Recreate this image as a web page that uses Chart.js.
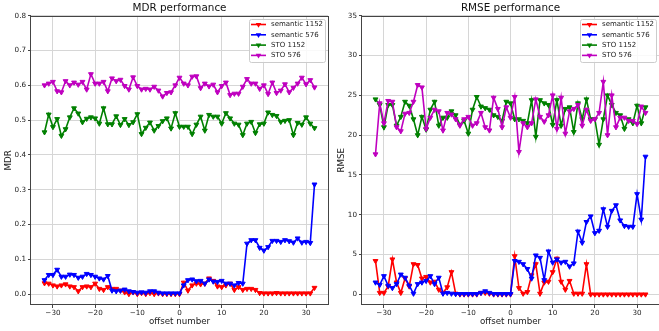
<!DOCTYPE html>
<html>
<head>
<meta charset="utf-8">
<title>MDR / RMSE performance</title>
<script src="https://cdn.jsdelivr.net/npm/chart.js@4.4.0/dist/chart.umd.min.js"></script>
<style>
  html, body { margin: 0; padding: 0; width: 659px; height: 331px; overflow: hidden; background: #fff; }
  .panel { position: absolute; top: 0; width: 333px; height: 331px; }
  #mdrPanel { left: 0; }
  #rmsePanel { left: 331px; }
</style>
</head>
<body>
<div class="panel" id="mdrPanel"><canvas id="mdrCanvas"></canvas></div>
<div class="panel" id="rmsePanel"><canvas id="rmseCanvas"></canvas></div>
<script>
// x軸: オフセット番号
const offsets = [
  -32, -31, -30, -29, -28, -27, -26, -25, -24, -23, -22, -21, -20, -19, -18, -17,
  -16, -15, -14, -13, -12, -11, -10, -9, -8, -7, -6, -5, -4, -3, -2, -1,
  0, 1, 2, 3, 4, 5, 6, 7, 8, 9, 10, 11, 12, 13, 14, 15,
  16, 17, 18, 19, 20, 21, 22, 23, 24, 25, 26, 27, 28, 29, 30, 31, 32
]

const xTicks = [-30, -20, -10, 0, 10, 20, 30]
const mdrTicks = [0, 0.1, 0.2, 0.3, 0.4, 0.5, 0.6, 0.7, 0.8]
const rmseTicks = [0, 5, 10, 15, 20, 25, 30, 35]

const seriesLabels = ["semantic 1152", "semantic 576", "STO 1152", "STO 576"]

// MDR
const mdrSemantic1152 = [
  0.031, 0.030, 0.025, 0.022, 0.025, 0.028, 0.022, 0.020, 0.008, 0.020, 0.022, 0.020, 0.030, 0.015, 0.012, 0.020,
  0.015, 0.015, 0.010, 0.005, 0.000, 0.005, 0.000, 0.003, 0.000, 0.003, 0.000, 0.002, 0.000, 0.000, 0.000, 0.000,
  0.000, 0.033, 0.010, 0.025, 0.030, 0.028, 0.030, 0.045, 0.038, 0.022, 0.020, 0.025, 0.030, 0.012, 0.020, 0.012,
  0.015, 0.015, 0.012, 0.003, 0.002, 0.002, 0.002, 0.003, 0.002, 0.002, 0.002, 0.002, 0.002, 0.002, 0.002, 0.002, 0.018
]
const mdrSemantic576 = [
  0.040, 0.055, 0.055, 0.070, 0.050, 0.050, 0.056, 0.055, 0.047, 0.050, 0.058, 0.055, 0.050, 0.045, 0.042, 0.052,
  0.010, 0.008, 0.010, 0.013, 0.008, 0.006, 0.004, 0.005, 0.004, 0.008, 0.008, 0.004, 0.002, 0.002, 0.002, 0.002,
  0.002, 0.025, 0.040, 0.042, 0.037, 0.038, 0.030, 0.042, 0.036, 0.035, 0.038, 0.030, 0.030, 0.025, 0.032, 0.030,
  0.145, 0.155, 0.155, 0.133, 0.125, 0.135, 0.153, 0.153, 0.150, 0.155, 0.152, 0.148, 0.160, 0.148, 0.150, 0.147, 0.315
]
const mdrSto1152 = [
  0.465, 0.516, 0.480, 0.503, 0.455, 0.474, 0.508, 0.534, 0.519, 0.494, 0.504, 0.508, 0.505, 0.490, 0.534, 0.488,
  0.488, 0.511, 0.486, 0.503, 0.486, 0.494, 0.517, 0.460, 0.478, 0.493, 0.470, 0.483, 0.497, 0.505, 0.476, 0.520,
  0.481, 0.481, 0.481, 0.460, 0.487, 0.510, 0.470, 0.515, 0.510, 0.510, 0.490, 0.520, 0.505, 0.490, 0.487, 0.457,
  0.490, 0.495, 0.463, 0.488, 0.490, 0.522, 0.515, 0.512, 0.495, 0.498, 0.500, 0.457, 0.492, 0.487, 0.508, 0.490, 0.477
]
const mdrSto576 = [
  0.600, 0.605, 0.610, 0.583, 0.580, 0.612, 0.600, 0.608, 0.602, 0.610, 0.588, 0.632, 0.605, 0.605, 0.610, 0.583,
  0.620, 0.612, 0.616, 0.598, 0.588, 0.623, 0.598, 0.588, 0.590, 0.588, 0.596, 0.585, 0.568, 0.578, 0.580, 0.600,
  0.622, 0.605, 0.600, 0.625, 0.626, 0.592, 0.605, 0.597, 0.602, 0.580, 0.598, 0.608, 0.572, 0.576, 0.576, 0.596,
  0.618, 0.605, 0.605, 0.590, 0.600, 0.575, 0.608, 0.578, 0.585, 0.603, 0.580, 0.593, 0.605, 0.622, 0.603, 0.615, 0.594
]

// RMSE
const rmseSemantic1152 = [
  4.2, 0.2, 0.2, 1.0, 4.4, 1.5, 0.2, 2.0, 1.0, 3.8, 3.7, 2.0, 2.2, 1.5, 1.6, 0.6,
  0.2, 0.9, 2.8, 0.1, 0.0, 0.0, 0.0, 0.0, 0.0, 0.2, 0.2, 0.1, 0.0, 0.0, 0.0, 0.0,
  0.0, 4.8, 0.8, 0.1, 0.3, 2.4, 3.8, 0.1, 1.5, 1.6, 2.8, 4.5, 1.6, 0.6, 1.7, 0.1,
  0.1, 0.1, 3.8, 0.0, 0.0, 0.0, 0.0, 0.0, 0.0, 0.0, 0.0, 0.0, 0.0, 0.0, 0.0, 0.0, 0.0
]
const rmseSemantic576 = [
  1.5, 1.2, 2.3, 1.1, 0.8, 1.3, 2.5, 2.1, 1.1, 0.1, 1.3, 1.5, 1.7, 2.3, 1.3, 2.1,
  0.1, 0.2, 0.1, 0.05, 0.05, 0.05, 0.05, 0.05, 0.05, 0.2, 0.4, 0.2, 0.05, 0.05, 0.05, 0.05,
  0.05, 4.2, 4.1, 3.8, 3.2, 2.0, 4.9, 4.6, 1.8, 5.4, 4.0, 4.4, 4.0, 4.1, 3.5, 3.9,
  7.9, 6.5, 9.1, 9.8, 7.7, 8.0, 10.7, 8.5, 10.5, 11.2, 9.3, 8.6, 8.5, 8.5, 12.6, 9.4, 17.3
]
const rmseSto1152 = [
  24.5, 23.8, 21.0, 23.8, 23.8, 21.2, 22.3, 24.2, 23.7, 22.0, 20.0, 22.3, 20.7, 23.2, 24.2, 21.2,
  22.2, 22.2, 23.0, 22.5, 21.3, 21.8, 20.2, 23.2, 24.8, 23.6, 23.4, 23.2, 22.5, 22.3, 21.8, 24.2,
  24.0, 22.0, 22.0, 21.8, 21.5, 24.4, 19.8, 24.4, 24.0, 23.8, 21.3, 24.4, 21.2, 23.3, 23.5, 20.4,
  24.0, 22.0, 24.5, 22.0, 22.0, 18.8, 22.0, 25.0, 23.8, 22.8, 22.5, 20.8, 22.0, 21.5, 23.7, 21.5, 23.5
]
const rmseSto576 = [
  17.6, 24.0, 21.5, 24.3, 24.2, 21.0, 20.5, 22.7, 22.8, 24.2, 26.3, 26.0, 20.8, 22.2, 23.2, 23.0,
  20.6, 22.8, 22.6, 22.0, 21.2, 22.0, 22.3, 21.2, 21.5, 22.8, 21.0, 20.6, 24.7, 23.3, 21.0, 23.5,
  22.2, 24.8, 17.9, 21.5, 21.0, 21.5, 24.5, 22.3, 21.7, 22.5, 25.0, 20.8, 24.7, 20.2, 23.0, 23.3,
  23.8, 21.2, 23.2, 21.8, 22.0, 22.8, 26.7, 20.0, 25.0, 21.0, 22.2, 22.2, 21.8, 21.8, 21.4, 23.6, 22.8
]

// 見た目の設定
const FONT = "'DejaVu Sans', sans-serif"
const seriesColors = ["#ff0000", "#0000ff", "#008000", "#bf00bf"]
const gridColor = "#d6d6d6"
const spineColor = "#444444"
const textColor = "#222222"

Chart.defaults.font.family = FONT

// 枠線 (matplotlib の spines)
const frame = {
  id: "frame",
  afterDatasetsDraw(chart) {
    const { ctx, chartArea: a } = chart
    ctx.save()
    ctx.strokeStyle = spineColor
    ctx.lineWidth = 1
    ctx.strokeRect(Math.round(a.left) - 0.5, Math.round(a.top) + 0.5,
      Math.round(a.right - a.left) + 1, Math.round(a.bottom - a.top) - 1)
    ctx.restore()
  }
}

// 下向き三角マーカー
function drawMarker(ctx, x, y, r, color) {
  ctx.beginPath()
  ctx.moveTo(x, y + r)
  ctx.lineTo(x - r * 0.866, y - r / 2)
  ctx.lineTo(x + r * 0.866, y - r / 2)
  ctx.closePath()
  ctx.fillStyle = color
  ctx.fill()
}

// 右上の凡例
const cornerLegend = {
  id: "cornerLegend",
  afterDraw(chart) {
    const { ctx, chartArea: a } = chart
    const w = 76, h = 43
    const x = Math.round(a.right) - 3 - w
    const y = Math.round(a.top) + 3
    ctx.save()
    ctx.beginPath()
    ctx.roundRect(x + 0.5, y + 0.5, w, h, 2)
    ctx.fillStyle = "rgba(255,255,255,0.85)"
    ctx.fill()
    ctx.strokeStyle = "#cccccc"
    ctx.lineWidth = 1
    ctx.stroke()
    ctx.font = "7px " + FONT
    ctx.textBaseline = "middle"
    chart.data.datasets.forEach((ds, i) => {
      const ly = y + 5.5 + i * 10.3
      ctx.strokeStyle = ds.borderColor
      ctx.lineWidth = 1.6
      ctx.beginPath()
      ctx.moveTo(x + 2, ly)
      ctx.lineTo(x + 17, ly)
      ctx.stroke()
      drawMarker(ctx, x + 9.5, ly, 3.2, ds.borderColor)
      ctx.fillStyle = textColor
      ctx.fillText(ds.label, x + 22, ly)
    })
    ctx.restore()
  }
}

function fmtX(v) {
  return v < 0 ? "\u2212" + Math.abs(v) : String(v)
}

function buildDatasets(seriesList) {
  return seriesList.map((values, i) => ({
    label: seriesLabels[i],
    data: offsets.map((x, j) => ({ x: x, y: values[j] })),
    borderColor: seriesColors[i],
    backgroundColor: seriesColors[i],
    borderWidth: 1.6,
    pointStyle: "triangle",
    rotation: 180,
    pointRadius: 2.8,
    pointBorderWidth: 1,
    tension: 0,
    order: 3 - i // 後の系列を上に描く
  }))
}

function buildChart(canvasId, title, yLabel, yMin, yMax, yTicks, yFmt, yTitlePad, seriesList) {
  return new Chart(document.getElementById(canvasId), {
    type: "line",
    data: { datasets: buildDatasets(seriesList) },
    options: {
      responsive: true,
      maintainAspectRatio: false,
      animation: false,
      events: [],
      layout: { padding: { left: 0, right: 2, top: 0, bottom: 0 } },
      plugins: {
        legend: { display: false },
        tooltip: { enabled: false },
        title: {
          display: true,
          text: title,
          fullSize: false,
          color: "#111111",
          font: { size: 10.4, weight: "normal" },
          padding: { top: 2.3, bottom: 0.9 }
        }
      },
      scales: {
        x: {
          type: "linear",
          min: -35.2,
          max: 35.2,
          afterBuildTicks: s => { s.ticks = xTicks.map(v => ({ value: v })) },
          afterFit: s => { s.height = 26 },
          grid: { color: gridColor, lineWidth: 1, tickLength: 3, tickColor: spineColor, tickWidth: 1 },
          border: { display: false },
          ticks: { padding: 1, color: textColor, font: { size: 7.2 }, maxRotation: 0, autoSkip: false, callback: v => fmtX(v) },
          title: { display: true, text: "offset number", color: textColor, font: { size: 8.7 }, padding: { top: 0, bottom: 3.8 } }
        },
        y: {
          min: yMin,
          max: yMax,
          afterBuildTicks: s => { s.ticks = yTicks.map(v => ({ value: v })) },
          afterFit: s => { s.width = 31 },
          grid: { color: gridColor, lineWidth: 1, tickLength: 3, tickColor: spineColor, tickWidth: 1 },
          border: { display: false },
          ticks: { padding: 2, color: textColor, font: { size: 7.2 }, callback: v => yFmt(v) },
          title: { display: true, text: yLabel, color: textColor, font: { size: 8.7 }, padding: { top: yTitlePad, bottom: 0 } }
        }
      }
    },
    plugins: [frame, cornerLegend]
  })
}

buildChart("mdrCanvas", "MDR performance", "MDR", -0.0316, 0.8, mdrTicks, v => v.toFixed(1), 3.3,
  [mdrSemantic1152, mdrSemantic576, mdrSto1152, mdrSto576])

buildChart("rmseCanvas", "RMSE performance", "RMSE", -1.335, 35, rmseTicks, v => String(v), 5.8,
  [rmseSemantic1152, rmseSemantic576, rmseSto1152, rmseSto576])
</script>
</body>
</html>
